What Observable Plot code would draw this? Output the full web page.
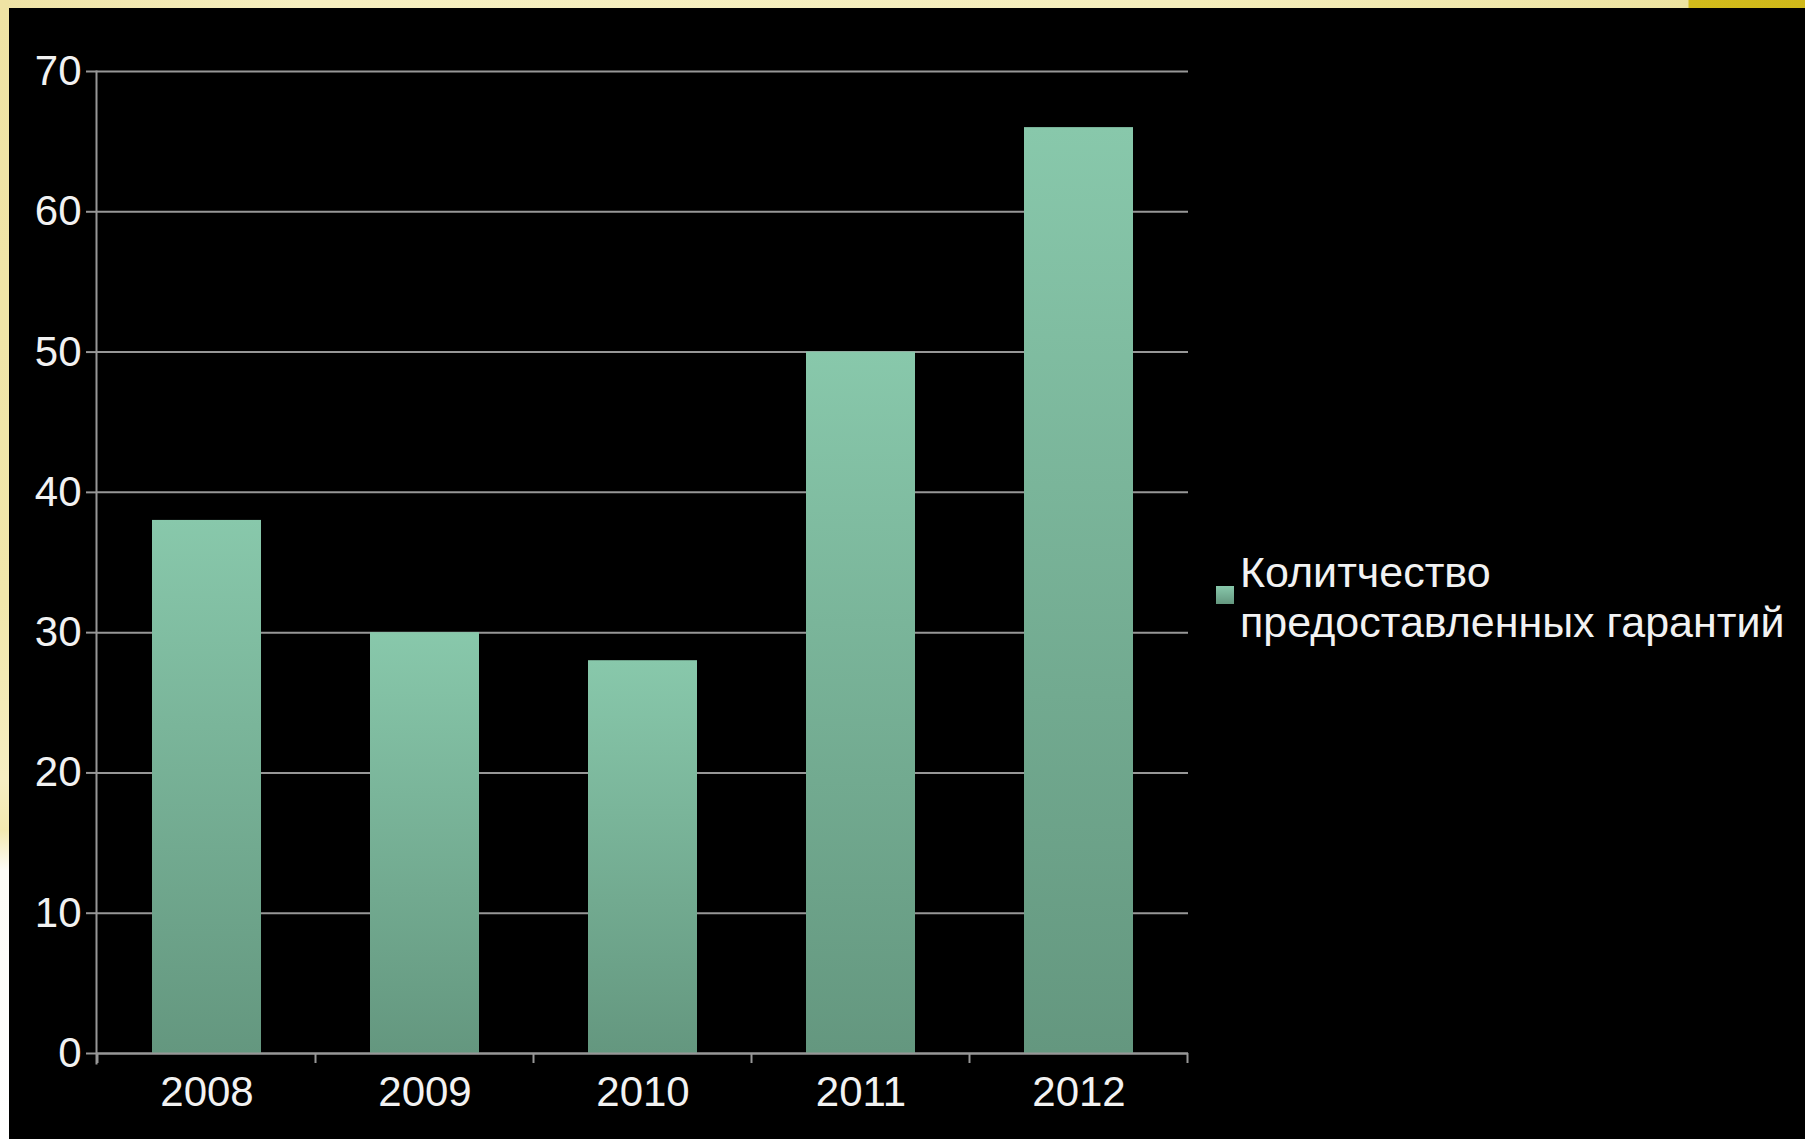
<!DOCTYPE html>
<html>
<head>
<meta charset="utf-8">
<script src="https://cdn.jsdelivr.net/npm/d3@7"></script>
<script src="https://cdn.jsdelivr.net/npm/@observablehq/plot@0.6"></script>
<style>
  html, body { margin: 0; padding: 0; background: #000; }
  #page { position: relative; width: 1805px; height: 1139px; overflow: hidden; background: #000; }
  #topStrip { position: absolute; left: 0; top: 0; width: 1805px; height: 8px;
    background: linear-gradient(to right, #efe3a6 0px, #f6efc0 300px, #f5eebd 1200px, #ede3a0 1688px, #d2bb1b 1689px, #d0b91a 1805px); }
  #leftStrip { position: absolute; left: 0; top: 0; width: 9px; height: 1139px;
    background: linear-gradient(to bottom, #efe3a4 0px, #f1e7ab 600px, #f6eec2 780px, #f3e9b0 830px, #fdfcf6 870px, #ffffff 1139px); }
  #chart { position: absolute; left: 0; top: 0; }
  #legend { position: absolute; left: 1216px; top: 547px; font-family: "Liberation Sans", Arial, sans-serif;
    font-size: 43px; line-height: 50px; color: #f2f2f2; }
  #legend .sw { position: absolute; left: 0; top: 39px; width: 18px; height: 18px; }
  #legend .txt { position: absolute; left: 24px; top: 0; white-space: nowrap; }
</style>
</head>
<body>
<div id="page">
  <div id="topStrip"></div>
  <div id="leftStrip"></div>
  <div id="chart"></div>
  <div id="legend"><div class="sw"></div><div class="txt"></div></div>
</div>
<script>
const years = ["2008", "2009", "2010", "2011", "2012"];
const values = [38, 30, 28, 50, 66];
const yTicks = [0, 10, 20, 30, 40, 50, 60, 70];
const legendLines = ["Колитчество", "предоставленных гарантий"];

const data = years.map((year, i) => ({year, value: values[i]}));

const gridColor = "#979797";
const textColor = "#f2f2f2";
const gradTop = "#88c8ab";
const gradBottom = "#64977f";

const chart = Plot.plot({
  width: 1805,
  height: 1139,
  marginLeft: 96,
  marginRight: 617,
  marginTop: 71,
  marginBottom: 86,
  style: {background: "transparent", color: textColor, fontFamily: "'Liberation Sans', Arial, sans-serif", fontSize: "42px"},
  x: {domain: years, paddingInner: 0.5, paddingOuter: 0.25, label: null},
  y: {domain: [0, 70], label: null},
  marks: [
    Plot.ruleY(yTicks, {stroke: gridColor, strokeWidth: 2}),
    Plot.barY(data, {x: "year", y: "value", fill: "url(#barGrad)"}),
    Plot.axisY({ticks: yTicks, tickSize: 10, tickPadding: 5, stroke: gridColor, strokeWidth: 2, fill: textColor, fontSize: 42, label: null}),
    Plot.axisX({tickSize: 0, tickPadding: 23, fill: textColor, fontSize: 42, label: null}),
    Plot.ruleY([0], {stroke: gridColor, strokeWidth: 2}),
    Plot.frame({anchor: "left", stroke: gridColor, strokeWidth: 2, insetBottom: -10})
  ]
});

const svg = d3.select(chart);
const grad = svg.insert("defs", ":first-child").append("linearGradient")
  .attr("id", "barGrad").attr("x1", 0).attr("y1", 0).attr("x2", 0).attr("y2", 1);
grad.append("stop").attr("offset", "0%").attr("stop-color", gradTop);
grad.append("stop").attr("offset", "100%").attr("stop-color", gradBottom);

// category boundary ticks on the x axis, from the band scale
const xs = chart.scale("x");
const ys = chart.scale("y");
const y0 = ys.apply(0);
const half = (xs.step - xs.bandwidth) / 2;
const bounds = years.map(y => xs.apply(y) - half);
bounds.push(xs.apply(years[years.length - 1]) + xs.bandwidth + half);
svg.append("g").selectAll("line").data(bounds).join("line")
  .attr("x1", d => d).attr("x2", d => d)
  .attr("y1", y0).attr("y2", y0 + 10)
  .attr("stroke", gridColor).attr("stroke-width", 2);

document.getElementById("chart").appendChild(chart);

document.querySelector("#legend .sw").style.background = "linear-gradient(" + gradTop + ", " + gradBottom + ")";
document.querySelector("#legend .txt").innerHTML = legendLines.join("<br>");
</script>
</body>
</html>
